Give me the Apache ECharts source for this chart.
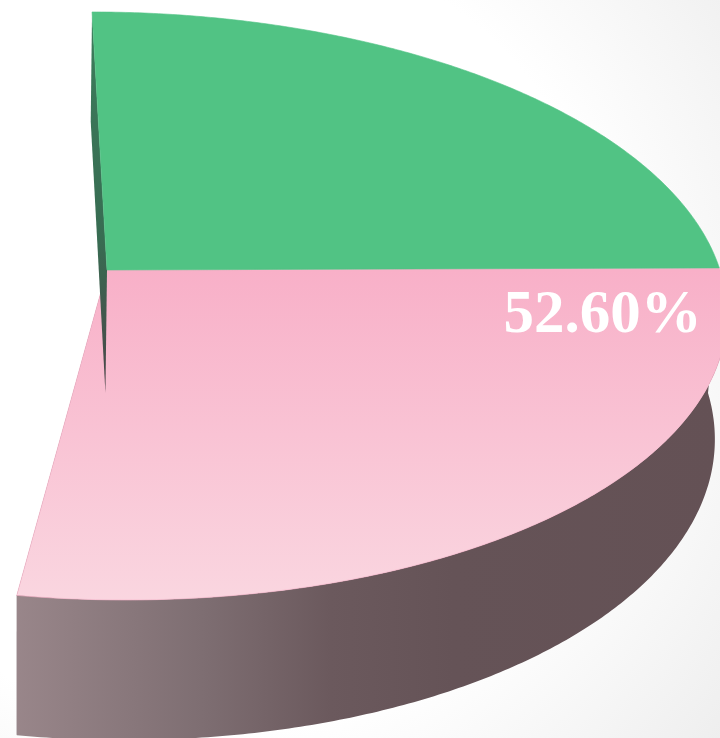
<!DOCTYPE html>
<html>
<head>
<meta charset="utf-8">
<title>3D pie</title>
<script src="https://cdn.jsdelivr.net/npm/echarts@6/dist/echarts.min.js"></script>
<style>
  html, body { margin: 0; padding: 0; background: #fff; }
  #chart { width: 720px; height: 738px; }
</style>
</head>
<body>
<div id="chart"></div>
<script>
// slices
const names = ['A', 'B'];
const values = [47.40, 52.60];

// layout of the pseudo 3D pie (pixels / degrees)
const CX = 107, CY = 270;     // top centre
const RX = 613, RY = 289.6;   // radii of top face
const P = 0.1224;             // perspective strength
const SHEAR = 0.058;
const H = 123;                // wall height
const VX = 15, S = 0.983;     // bottom face shrink
const SWEEP = 189;            // degrees covered by the pie, clockwise from 12 o'clock

const topColors = ['#51c384', '#f8b2c9'];
const total = values.reduce((a, b) => a + b, 0);

function project(r, deg, bottom) {
  const a = deg * Math.PI / 180;
  const X = r * Math.sin(a), Z = -r * Math.cos(a);
  const d = 1 - P * Z;
  let y = CY + RY * Z / d;
  let x = CX + RX * X / d + SHEAR * (y - CY);
  if (bottom) {
    y += H / d;
    x = VX + (x - VX) * S;
  }
  return [x, y];
}

function arc(a0, a1, bottom) {
  const pts = [];
  const n = Math.max(2, Math.ceil(Math.abs(a1 - a0) / 0.5));
  for (let k = 0; k <= n; k++) pts.push(project(1, a0 + (a1 - a0) * k / n, bottom));
  return pts;
}

const lin = (x1, y1, x2, y2, stops) => new echarts.graphic.LinearGradient(x1, y1, x2, y2,
  stops.map(s => ({ offset: s[0], color: s[1] })), true);

const topFill = [
  '#51c384',
  lin(0, 270, 0, 600, [[0, '#f8b0c8'], [1, '#fad6e0']])
];
const wallFill = [
  '#3c7a5a',
  lin(0, 0, 720, 0, [[0, '#9b888c'], [0.28, '#7e6e72'], [0.46, '#6b595d'], [0.63, '#655357'], [1, '#645155']])
];
const sideFill = [
  lin(0, 12, 0, 390, [[0, '#3c7d5c'], [0.6, '#386c52'], [1, '#4b4448']]),
  lin(0, 270, 0, 730, [[0, '#6b595d'], [1, '#8a777b']])
];

// start offset of every slice
const starts = [];
values.reduce((acc, v) => { starts.push(acc); return acc + v; }, 0);
const maxIdx = values.indexOf(Math.max(...values));

const chart = echarts.init(document.getElementById('chart'));
chart.setOption({
  animation: false,
  backgroundColor: new echarts.graphic.RadialGradient(0.3, 0.45, 0.9, [
    { offset: 0, color: '#ffffff' }, { offset: 0.62, color: '#ffffff' }, { offset: 1, color: '#eeeeee' }
  ]),
  series: [{
    type: 'custom',
    coordinateSystem: 'none',
    data: values.map((v, i) => ({ name: names[i], value: [v, starts[i]] })),
    renderItem(params, api) {
      const i = params.dataIndex;
      const last = values.length - 1;
      const a0 = api.value(1) / total * SWEEP;
      const a1 = (api.value(1) + api.value(0)) / total * SWEEP;
      const base = (values.length - i) * 10;
      const children = [];

      // outer wall, front half only
      const w0 = Math.max(a0, 90), w1 = Math.min(a1, 270);
      if (w1 > w0) {
        const pts = arc(w0, w1, false).concat(arc(w1, w0, true));
        children.push({ type: 'polygon', z2: 1, shape: { points: pts }, style: { fill: wallFill[i] } });
      }
      // open radial faces (the end one faces away, keep it under the wall)
      if (i === 0) {
        children.push({ type: 'polygon', z2: base + 1, shape: { points: [
          project(0, a0, false), project(1, a0, false), project(1, a0, true), project(0, a0, true)
        ] }, style: { fill: sideFill[i] } });
      }
      if (i === last && SWEEP < 360) {
        children.push({ type: 'polygon', z2: 0, shape: { points: [
          project(0, a1, false), project(1, a1, false), project(1, a1, true), project(0, a1, true)
        ] }, style: { fill: sideFill[i] } });
      }
      // top face
      const top = [project(0, a0, false)].concat(arc(a0, a1, false));
      children.push({ type: 'polygon', z2: base + 2, shape: { points: top },
        style: { fill: topFill[i], stroke: topColors[i], lineWidth: 0.6 } });

      if (i === maxIdx) {
        const pos = project(0.96, a0 + 9.8, false);
        children.push({ type: 'text', z2: 100, style: {
          text: (api.value(0) / total * 100).toFixed(2) + '%',
          x: pos[0], y: pos[1], align: 'right', verticalAlign: 'middle',
          fill: '#ffffff', fontSize: 61, fontWeight: 'bold', fontFamily: '"Liberation Serif", serif'
        } });
      }
      return { type: 'group', children };
    }
  }]
});
</script>
</body>
</html>
